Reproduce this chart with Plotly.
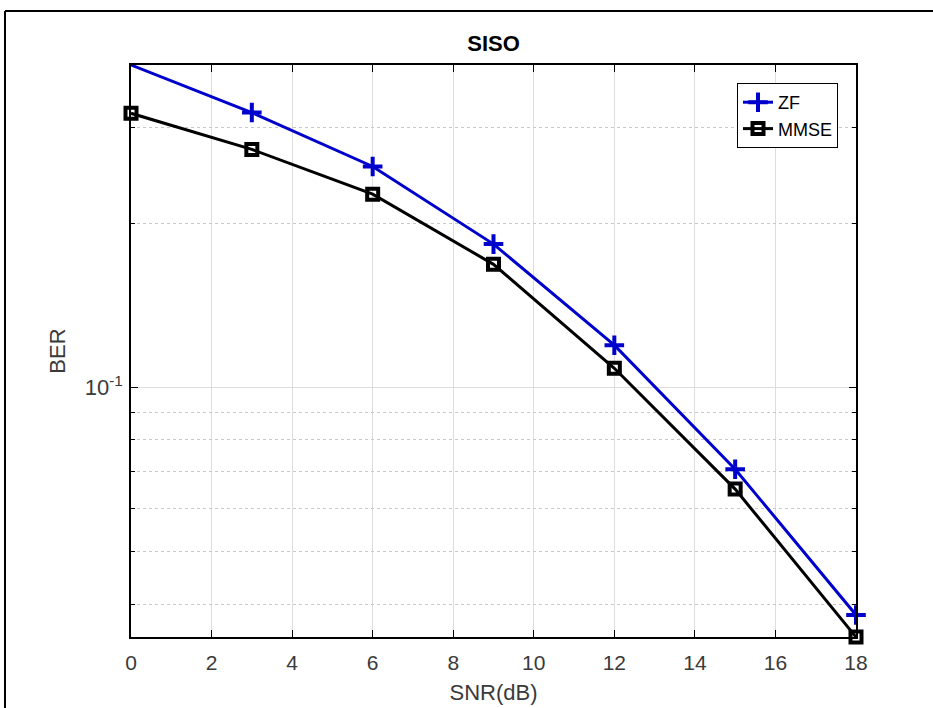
import plotly.graph_objects as go
import math

snr_db = [0, 3, 6, 9, 12, 15, 18]
ber_zf = [0.390, 0.319, 0.254, 0.183, 0.1194, 0.0707, 0.0382]
ber_mmse = [0.318, 0.273, 0.226, 0.168, 0.1083, 0.0650, 0.0348]

x_ticks = [0, 2, 4, 6, 8, 10, 12, 14, 16, 18]
y_major_ticks = [0.1]
y_major_labels = ["10<sup>-1</sup>"]
y_minor_ticks = [0.04, 0.05, 0.06, 0.07, 0.08, 0.09, 0.2, 0.3]

FONT = "Liberation Sans, Arial, Helvetica, sans-serif"
TICKC = "#3a3a3a"

y_lo = math.log10(min(ber_mmse + ber_zf))
y_hi = math.log10(max(ber_mmse + ber_zf))

fig = go.Figure()
fig.add_trace(go.Scatter(
    x=snr_db, y=ber_zf, name="ZF", mode="lines+markers",
    line=dict(color="#0000cc", width=3),
    marker=dict(symbol="cross-thin", size=14, line=dict(color="#0000cc", width=4)),
    cliponaxis=False,
))
fig.add_trace(go.Scatter(
    x=snr_db, y=ber_mmse, name="MMSE", mode="lines+markers",
    line=dict(color="black", width=3),
    marker=dict(symbol="square-open", size=11, color="black", line=dict(color="black", width=4)),
    cliponaxis=False,
))

fig.update_layout(
    width=933, height=708,
    margin=dict(l=131, r=77, t=65, b=71),
    paper_bgcolor="white", plot_bgcolor="white",
    font=dict(family=FONT, color=TICKC, size=20),
    title=dict(text="<b>SISO</b>", x=(131 + 856) / 2 / 933, xanchor="center",
               y=1 - 43 / 708, yanchor="middle",
               font=dict(family=FONT, size=22, color="black")),
    xaxis=dict(
        range=[0, 18], tickvals=x_ticks, ticks="inside", ticklen=7, tickcolor="black",
        showline=True, linecolor="black", linewidth=1.5, mirror="ticks",
        showgrid=True, gridcolor="#dddddd", gridwidth=1, zeroline=False,
        tickfont=dict(size=21, color=TICKC), ticklabelstandoff=6, automargin=False,
        title=dict(text="SNR(dB)", font=dict(size=22, color=TICKC), standoff=12),
    ),
    yaxis=dict(
        type="log", range=[y_lo, y_hi], tickvals=y_major_ticks, ticktext=y_major_labels,
        ticks="inside", ticklen=7, tickcolor="black",
        showline=True, linecolor="black", linewidth=1.5, mirror="ticks",
        showgrid=True, gridcolor="#dddddd", gridwidth=1, zeroline=False,
        tickfont=dict(size=22, color=TICKC), ticklabelstandoff=2, automargin=False,
        title=dict(text="BER", font=dict(size=22, color=TICKC), standoff=13),
    ),
    yaxis2=dict(
        type="log", range=[y_lo, y_hi], overlaying="y", side="left",
        tickvals=y_minor_ticks, automargin=False,
        ticks="inside", ticklen=4, tickcolor="black",
        showline=True, linecolor="black", linewidth=1.5, mirror="ticks",
        showgrid=True, gridcolor="#c8c8c8", gridwidth=1, griddash="dot",
        zeroline=False, showticklabels=False,
    ),
    legend=dict(
        x=(838 - 131) / 725, xanchor="right", y=(637 - 83) / 572, yanchor="top",
        bgcolor="white", bordercolor="black", borderwidth=1,
        font=dict(size=18, color="black", family=FONT),
        tracegroupgap=0, itemwidth=30,
    ),
    showlegend=True,
)

# dummy trace so yaxis2 renders its minor grid
fig.add_trace(go.Scatter(x=[None], y=[None], yaxis="y2", showlegend=False, hoverinfo="skip"))

# outer figure frame (top and left edges visible in the reference)
frame_left = (5 - 131) / 725
frame_top = (637 - 11) / 572
fig.add_shape(type="line", xref="paper", yref="paper",
              x0=frame_left, x1=(933 - 131) / 725, y0=frame_top, y1=frame_top,
              line=dict(color="black", width=2), layer="below")
fig.add_shape(type="line", xref="paper", yref="paper",
              x0=frame_left, x1=frame_left, y0=frame_top, y1=(637 - 708) / 572,
              line=dict(color="black", width=2), layer="below")

fig.write_html("out.html")
